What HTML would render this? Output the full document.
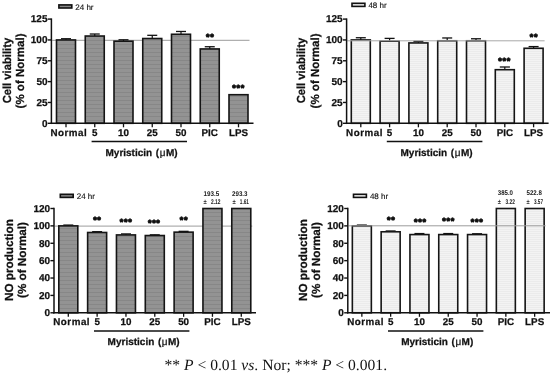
<!DOCTYPE html>
<html><head><meta charset="utf-8"><style>
html,body{margin:0;padding:0;background:#fff;width:550px;height:373px;overflow:hidden}
svg{position:absolute;left:0;top:0;display:block}
svg text{font-family:"Liberation Sans", Arial, sans-serif;fill:#111;text-rendering:geometricPrecision}
svg text.b{stroke:#111;stroke-width:0.25px}
svg text.st{stroke:#111;stroke-width:0.8px}
svg text.lg{stroke:#222;stroke-width:0.15px}
svg text.v{fill:#222}
</style></head><body>
<svg width="550" height="373" viewBox="0 0 550 373">
<defs>
<pattern id="pd" width="4" height="4" patternUnits="userSpaceOnUse">
<rect width="4" height="4" fill="#939393"/>
<rect width="4" height="1" fill="#878787"/>
</pattern>
<pattern id="pl" width="4" height="2" patternUnits="userSpaceOnUse">
<rect width="4" height="2" fill="#f3f3f3"/>
<rect width="4" height="1" y="1" fill="#ebebeb"/>
</pattern>
</defs>
<line x1="52.15" y1="40.30" x2="249.50" y2="40.30" stroke="#9c9c9c" stroke-width="1"/>
<line x1="66.00" y1="39.94" x2="66.00" y2="38.74" stroke="#111" stroke-width="1.2"/>
<line x1="61.00" y1="38.74" x2="71.00" y2="38.74" stroke="#111" stroke-width="1.3"/>
<rect x="56.50" y="39.94" width="19.00" height="83.36" fill="url(#pd)" stroke="#151515" stroke-width="1.6"/>
<line x1="94.75" y1="36.02" x2="94.75" y2="34.02" stroke="#111" stroke-width="1.2"/>
<line x1="89.75" y1="34.02" x2="99.75" y2="34.02" stroke="#111" stroke-width="1.3"/>
<rect x="85.25" y="36.02" width="19.00" height="87.28" fill="url(#pd)" stroke="#151515" stroke-width="1.6"/>
<line x1="123.50" y1="41.19" x2="123.50" y2="39.79" stroke="#111" stroke-width="1.2"/>
<line x1="118.50" y1="39.79" x2="128.50" y2="39.79" stroke="#111" stroke-width="1.3"/>
<rect x="114.00" y="41.19" width="19.00" height="82.11" fill="url(#pd)" stroke="#151515" stroke-width="1.6"/>
<line x1="152.25" y1="38.52" x2="152.25" y2="35.32" stroke="#111" stroke-width="1.2"/>
<line x1="147.25" y1="35.32" x2="157.25" y2="35.32" stroke="#111" stroke-width="1.3"/>
<rect x="142.75" y="38.52" width="19.00" height="84.78" fill="url(#pd)" stroke="#151515" stroke-width="1.6"/>
<line x1="181.00" y1="34.27" x2="181.00" y2="31.47" stroke="#111" stroke-width="1.2"/>
<line x1="176.00" y1="31.47" x2="186.00" y2="31.47" stroke="#111" stroke-width="1.3"/>
<rect x="171.50" y="34.27" width="19.00" height="89.03" fill="url(#pd)" stroke="#151515" stroke-width="1.6"/>
<line x1="209.75" y1="48.94" x2="209.75" y2="46.74" stroke="#111" stroke-width="1.2"/>
<line x1="204.75" y1="46.74" x2="214.75" y2="46.74" stroke="#111" stroke-width="1.3"/>
<rect x="200.25" y="48.94" width="19.00" height="74.36" fill="url(#pd)" stroke="#151515" stroke-width="1.6"/>
<rect x="229.00" y="94.71" width="19.00" height="28.59" fill="url(#pd)" stroke="#151515" stroke-width="1.6"/>
<line x1="51.40" y1="18.40" x2="51.40" y2="124.05" stroke="#111" stroke-width="1.5"/>
<line x1="50.65" y1="123.30" x2="253.50" y2="123.30" stroke="#111" stroke-width="1.5"/>
<line x1="47.80" y1="123.30" x2="51.40" y2="123.30" stroke="#111" stroke-width="1.4"/>
<text class="b" x="47.50" y="126.60" font-size="10" font-weight="bold" text-anchor="end" >0</text>
<line x1="47.80" y1="102.46" x2="51.40" y2="102.46" stroke="#111" stroke-width="1.4"/>
<text class="b" x="47.50" y="105.76" font-size="10" font-weight="bold" text-anchor="end" >25</text>
<line x1="47.80" y1="81.62" x2="51.40" y2="81.62" stroke="#111" stroke-width="1.4"/>
<text class="b" x="47.50" y="84.92" font-size="10" font-weight="bold" text-anchor="end" >50</text>
<line x1="47.80" y1="60.78" x2="51.40" y2="60.78" stroke="#111" stroke-width="1.4"/>
<text class="b" x="47.50" y="64.08" font-size="10" font-weight="bold" text-anchor="end" >75</text>
<line x1="47.80" y1="39.94" x2="51.40" y2="39.94" stroke="#111" stroke-width="1.4"/>
<text class="b" x="47.50" y="43.24" font-size="10" font-weight="bold" text-anchor="end" >100</text>
<line x1="47.80" y1="19.10" x2="51.40" y2="19.10" stroke="#111" stroke-width="1.4"/>
<text class="b" x="47.50" y="22.40" font-size="10" font-weight="bold" text-anchor="end" >125</text>
<line x1="66.00" y1="123.30" x2="66.00" y2="127.30" stroke="#111" stroke-width="1.3"/>
<text class="b" x="50.50" y="135.70" font-size="9.8" font-weight="bold" text-anchor="start" letter-spacing="0.5">Normal</text>
<line x1="94.75" y1="123.30" x2="94.75" y2="127.30" stroke="#111" stroke-width="1.3"/>
<text class="b" x="94.75" y="135.70" font-size="9.8" font-weight="bold" text-anchor="middle" >5</text>
<line x1="123.50" y1="123.30" x2="123.50" y2="127.30" stroke="#111" stroke-width="1.3"/>
<text class="b" x="123.50" y="135.70" font-size="9.8" font-weight="bold" text-anchor="middle" >10</text>
<line x1="152.25" y1="123.30" x2="152.25" y2="127.30" stroke="#111" stroke-width="1.3"/>
<text class="b" x="152.25" y="135.70" font-size="9.8" font-weight="bold" text-anchor="middle" >25</text>
<line x1="181.00" y1="123.30" x2="181.00" y2="127.30" stroke="#111" stroke-width="1.3"/>
<text class="b" x="181.00" y="135.70" font-size="9.8" font-weight="bold" text-anchor="middle" >50</text>
<line x1="209.75" y1="123.30" x2="209.75" y2="127.30" stroke="#111" stroke-width="1.3"/>
<text class="b" x="209.75" y="135.70" font-size="9.8" font-weight="bold" text-anchor="middle" >PIC</text>
<line x1="238.50" y1="123.30" x2="238.50" y2="127.30" stroke="#111" stroke-width="1.3"/>
<text class="b" x="238.50" y="135.70" font-size="9.8" font-weight="bold" text-anchor="middle" >LPS</text>
<line x1="91.60" y1="141.40" x2="187.00" y2="141.40" stroke="#111" stroke-width="1.5"/>
<text class="b" x="105.50" y="155.50" font-size="10" font-weight="bold" text-anchor="start" >Myristicin<tspan dx="3.6">(</tspan><tspan font-weight="normal" dx="0.6">&#956;</tspan><tspan dx="0.4">M)</tspan></text>
<text class="st" x="210.15" y="40.00" font-size="9" font-weight="bold" text-anchor="middle" letter-spacing="0.7">**</text>
<text class="st" x="238.55" y="91.30" font-size="9" font-weight="bold" text-anchor="middle" letter-spacing="0.7">***</text>
<rect x="58.90" y="4.90" width="12.9" height="3.1" fill="#888" stroke="#111" stroke-width="1.6"/>
<text class="lg" x="75.30" y="9.50" font-size="8" font-weight="normal" text-anchor="start" >24 hr</text>
<text class="b" transform="translate(10.80,70.60) rotate(-90)" font-size="11.7" font-weight="bold" text-anchor="middle" textLength="65.5" lengthAdjust="spacingAndGlyphs">Cell viability</text>
<text class="b" transform="translate(24.30,71.00) rotate(-90)" font-size="11.7" font-weight="bold" text-anchor="middle" textLength="74.9" lengthAdjust="spacingAndGlyphs">(% of Normal)</text>
<line x1="360.80" y1="39.94" x2="360.80" y2="37.74" stroke="#111" stroke-width="1.2"/>
<line x1="355.80" y1="37.74" x2="365.80" y2="37.74" stroke="#111" stroke-width="1.3"/>
<rect x="351.30" y="39.94" width="19.00" height="83.36" fill="url(#pl)" stroke="#151515" stroke-width="1.6"/>
<line x1="389.60" y1="41.19" x2="389.60" y2="38.39" stroke="#111" stroke-width="1.2"/>
<line x1="384.60" y1="38.39" x2="394.60" y2="38.39" stroke="#111" stroke-width="1.3"/>
<rect x="380.10" y="41.19" width="19.00" height="82.11" fill="url(#pl)" stroke="#151515" stroke-width="1.6"/>
<line x1="418.40" y1="42.94" x2="418.40" y2="41.34" stroke="#111" stroke-width="1.2"/>
<line x1="413.40" y1="41.34" x2="423.40" y2="41.34" stroke="#111" stroke-width="1.3"/>
<rect x="408.90" y="42.94" width="19.00" height="80.36" fill="url(#pl)" stroke="#151515" stroke-width="1.6"/>
<line x1="447.20" y1="40.77" x2="447.20" y2="37.97" stroke="#111" stroke-width="1.2"/>
<line x1="442.20" y1="37.97" x2="452.20" y2="37.97" stroke="#111" stroke-width="1.3"/>
<rect x="437.70" y="40.77" width="19.00" height="82.53" fill="url(#pl)" stroke="#151515" stroke-width="1.6"/>
<line x1="476.00" y1="40.77" x2="476.00" y2="38.77" stroke="#111" stroke-width="1.2"/>
<line x1="471.00" y1="38.77" x2="481.00" y2="38.77" stroke="#111" stroke-width="1.3"/>
<rect x="466.50" y="40.77" width="19.00" height="82.53" fill="url(#pl)" stroke="#151515" stroke-width="1.6"/>
<line x1="504.80" y1="69.70" x2="504.80" y2="67.00" stroke="#111" stroke-width="1.2"/>
<line x1="499.80" y1="67.00" x2="509.80" y2="67.00" stroke="#111" stroke-width="1.3"/>
<rect x="495.30" y="69.70" width="19.00" height="53.60" fill="url(#pl)" stroke="#151515" stroke-width="1.6"/>
<line x1="533.60" y1="48.28" x2="533.60" y2="46.58" stroke="#111" stroke-width="1.2"/>
<line x1="528.60" y1="46.58" x2="538.60" y2="46.58" stroke="#111" stroke-width="1.3"/>
<rect x="524.10" y="48.28" width="19.00" height="75.02" fill="url(#pl)" stroke="#151515" stroke-width="1.6"/>
<line x1="347.35" y1="40.80" x2="544.60" y2="40.80" stroke="#a8a8a8" stroke-width="1"/>
<line x1="346.60" y1="18.40" x2="346.60" y2="124.05" stroke="#111" stroke-width="1.5"/>
<line x1="345.85" y1="123.30" x2="548.60" y2="123.30" stroke="#111" stroke-width="1.5"/>
<line x1="343.00" y1="123.30" x2="346.60" y2="123.30" stroke="#111" stroke-width="1.4"/>
<text class="b" x="342.70" y="126.60" font-size="10" font-weight="bold" text-anchor="end" >0</text>
<line x1="343.00" y1="102.46" x2="346.60" y2="102.46" stroke="#111" stroke-width="1.4"/>
<text class="b" x="342.70" y="105.76" font-size="10" font-weight="bold" text-anchor="end" >25</text>
<line x1="343.00" y1="81.62" x2="346.60" y2="81.62" stroke="#111" stroke-width="1.4"/>
<text class="b" x="342.70" y="84.92" font-size="10" font-weight="bold" text-anchor="end" >50</text>
<line x1="343.00" y1="60.78" x2="346.60" y2="60.78" stroke="#111" stroke-width="1.4"/>
<text class="b" x="342.70" y="64.08" font-size="10" font-weight="bold" text-anchor="end" >75</text>
<line x1="343.00" y1="39.94" x2="346.60" y2="39.94" stroke="#111" stroke-width="1.4"/>
<text class="b" x="342.70" y="43.24" font-size="10" font-weight="bold" text-anchor="end" >100</text>
<line x1="343.00" y1="19.10" x2="346.60" y2="19.10" stroke="#111" stroke-width="1.4"/>
<text class="b" x="342.70" y="22.40" font-size="10" font-weight="bold" text-anchor="end" >125</text>
<line x1="360.80" y1="123.30" x2="360.80" y2="127.30" stroke="#111" stroke-width="1.3"/>
<text class="b" x="346.10" y="135.70" font-size="9.8" font-weight="bold" text-anchor="start" letter-spacing="0.5">Normal</text>
<line x1="389.60" y1="123.30" x2="389.60" y2="127.30" stroke="#111" stroke-width="1.3"/>
<text class="b" x="389.60" y="135.70" font-size="9.8" font-weight="bold" text-anchor="middle" >5</text>
<line x1="418.40" y1="123.30" x2="418.40" y2="127.30" stroke="#111" stroke-width="1.3"/>
<text class="b" x="418.40" y="135.70" font-size="9.8" font-weight="bold" text-anchor="middle" >10</text>
<line x1="447.20" y1="123.30" x2="447.20" y2="127.30" stroke="#111" stroke-width="1.3"/>
<text class="b" x="447.20" y="135.70" font-size="9.8" font-weight="bold" text-anchor="middle" >25</text>
<line x1="476.00" y1="123.30" x2="476.00" y2="127.30" stroke="#111" stroke-width="1.3"/>
<text class="b" x="476.00" y="135.70" font-size="9.8" font-weight="bold" text-anchor="middle" >50</text>
<line x1="504.80" y1="123.30" x2="504.80" y2="127.30" stroke="#111" stroke-width="1.3"/>
<text class="b" x="504.80" y="135.70" font-size="9.8" font-weight="bold" text-anchor="middle" >PIC</text>
<line x1="533.60" y1="123.30" x2="533.60" y2="127.30" stroke="#111" stroke-width="1.3"/>
<text class="b" x="533.60" y="135.70" font-size="9.8" font-weight="bold" text-anchor="middle" >LPS</text>
<line x1="386.80" y1="141.40" x2="482.40" y2="141.40" stroke="#111" stroke-width="1.5"/>
<text class="b" x="400.50" y="155.50" font-size="10" font-weight="bold" text-anchor="start" >Myristicin<tspan dx="3.6">(</tspan><tspan font-weight="normal" dx="0.6">&#956;</tspan><tspan dx="0.4">M)</tspan></text>
<text class="st" x="504.55" y="63.50" font-size="9" font-weight="bold" text-anchor="middle" letter-spacing="0.7">***</text>
<text class="st" x="533.95" y="39.70" font-size="9" font-weight="bold" text-anchor="middle" letter-spacing="0.7">**</text>
<rect x="352.00" y="3.30" width="12.9" height="3.1" fill="#eee" stroke="#111" stroke-width="1.6"/>
<text class="lg" x="368.40" y="7.90" font-size="8" font-weight="normal" text-anchor="start" >48 hr</text>
<text class="b" transform="translate(305.30,70.60) rotate(-90)" font-size="11.7" font-weight="bold" text-anchor="middle" textLength="65.5" lengthAdjust="spacingAndGlyphs">Cell viability</text>
<text class="b" transform="translate(318.60,71.00) rotate(-90)" font-size="11.7" font-weight="bold" text-anchor="middle" textLength="74.9" lengthAdjust="spacingAndGlyphs">(% of Normal)</text>
<line x1="54.75" y1="226.10" x2="252.28" y2="226.10" stroke="#9c9c9c" stroke-width="1"/>
<line x1="68.30" y1="225.88" x2="68.30" y2="225.08" stroke="#111" stroke-width="1.2"/>
<line x1="63.30" y1="225.08" x2="73.30" y2="225.08" stroke="#111" stroke-width="1.3"/>
<rect x="58.80" y="225.88" width="19.00" height="86.92" fill="url(#pd)" stroke="#151515" stroke-width="1.6"/>
<line x1="97.13" y1="232.49" x2="97.13" y2="231.69" stroke="#111" stroke-width="1.2"/>
<line x1="92.13" y1="231.69" x2="102.13" y2="231.69" stroke="#111" stroke-width="1.3"/>
<rect x="87.63" y="232.49" width="19.00" height="80.31" fill="url(#pd)" stroke="#151515" stroke-width="1.6"/>
<line x1="125.96" y1="234.92" x2="125.96" y2="233.92" stroke="#111" stroke-width="1.2"/>
<line x1="120.96" y1="233.92" x2="130.96" y2="233.92" stroke="#111" stroke-width="1.3"/>
<rect x="116.46" y="234.92" width="19.00" height="77.88" fill="url(#pd)" stroke="#151515" stroke-width="1.6"/>
<line x1="154.79" y1="235.53" x2="154.79" y2="234.83" stroke="#111" stroke-width="1.2"/>
<line x1="149.79" y1="234.83" x2="159.79" y2="234.83" stroke="#111" stroke-width="1.3"/>
<rect x="145.29" y="235.53" width="19.00" height="77.27" fill="url(#pd)" stroke="#151515" stroke-width="1.6"/>
<line x1="183.62" y1="232.14" x2="183.62" y2="231.34" stroke="#111" stroke-width="1.2"/>
<line x1="178.62" y1="231.34" x2="188.62" y2="231.34" stroke="#111" stroke-width="1.3"/>
<rect x="174.12" y="232.14" width="19.00" height="80.66" fill="url(#pd)" stroke="#151515" stroke-width="1.6"/>
<rect x="202.95" y="208.50" width="19.00" height="104.30" fill="url(#pd)" stroke="#151515" stroke-width="1.6"/>
<rect x="231.78" y="208.50" width="19.00" height="104.30" fill="url(#pd)" stroke="#151515" stroke-width="1.6"/>
<line x1="54.00" y1="207.80" x2="54.00" y2="313.55" stroke="#111" stroke-width="1.5"/>
<line x1="53.25" y1="312.80" x2="256.00" y2="312.80" stroke="#111" stroke-width="1.5"/>
<line x1="50.40" y1="312.80" x2="54.00" y2="312.80" stroke="#111" stroke-width="1.4"/>
<text class="b" x="50.10" y="316.10" font-size="10" font-weight="bold" text-anchor="end" >0</text>
<line x1="50.40" y1="295.42" x2="54.00" y2="295.42" stroke="#111" stroke-width="1.4"/>
<text class="b" x="50.10" y="298.72" font-size="10" font-weight="bold" text-anchor="end" >20</text>
<line x1="50.40" y1="278.03" x2="54.00" y2="278.03" stroke="#111" stroke-width="1.4"/>
<text class="b" x="50.10" y="281.33" font-size="10" font-weight="bold" text-anchor="end" >40</text>
<line x1="50.40" y1="260.65" x2="54.00" y2="260.65" stroke="#111" stroke-width="1.4"/>
<text class="b" x="50.10" y="263.95" font-size="10" font-weight="bold" text-anchor="end" >60</text>
<line x1="50.40" y1="243.27" x2="54.00" y2="243.27" stroke="#111" stroke-width="1.4"/>
<text class="b" x="50.10" y="246.57" font-size="10" font-weight="bold" text-anchor="end" >80</text>
<line x1="50.40" y1="225.88" x2="54.00" y2="225.88" stroke="#111" stroke-width="1.4"/>
<text class="b" x="50.10" y="229.18" font-size="10" font-weight="bold" text-anchor="end" >100</text>
<line x1="50.40" y1="208.50" x2="54.00" y2="208.50" stroke="#111" stroke-width="1.4"/>
<text class="b" x="50.10" y="211.80" font-size="10" font-weight="bold" text-anchor="end" >120</text>
<line x1="68.30" y1="312.80" x2="68.30" y2="316.80" stroke="#111" stroke-width="1.3"/>
<text class="b" x="53.30" y="325.20" font-size="9.8" font-weight="bold" text-anchor="start" letter-spacing="0.5">Normal</text>
<line x1="97.13" y1="312.80" x2="97.13" y2="316.80" stroke="#111" stroke-width="1.3"/>
<text class="b" x="97.13" y="325.20" font-size="9.8" font-weight="bold" text-anchor="middle" >5</text>
<line x1="125.96" y1="312.80" x2="125.96" y2="316.80" stroke="#111" stroke-width="1.3"/>
<text class="b" x="125.96" y="325.20" font-size="9.8" font-weight="bold" text-anchor="middle" >10</text>
<line x1="154.79" y1="312.80" x2="154.79" y2="316.80" stroke="#111" stroke-width="1.3"/>
<text class="b" x="154.79" y="325.20" font-size="9.8" font-weight="bold" text-anchor="middle" >25</text>
<line x1="183.62" y1="312.80" x2="183.62" y2="316.80" stroke="#111" stroke-width="1.3"/>
<text class="b" x="183.62" y="325.20" font-size="9.8" font-weight="bold" text-anchor="middle" >50</text>
<line x1="212.45" y1="312.80" x2="212.45" y2="316.80" stroke="#111" stroke-width="1.3"/>
<text class="b" x="212.45" y="325.20" font-size="9.8" font-weight="bold" text-anchor="middle" >PIC</text>
<line x1="241.28" y1="312.80" x2="241.28" y2="316.80" stroke="#111" stroke-width="1.3"/>
<text class="b" x="241.28" y="325.20" font-size="9.8" font-weight="bold" text-anchor="middle" >LPS</text>
<line x1="94.00" y1="331.00" x2="189.40" y2="331.00" stroke="#111" stroke-width="1.5"/>
<text class="b" x="107.60" y="345.30" font-size="10" font-weight="bold" text-anchor="start" >Myristicin<tspan dx="3.6">(</tspan><tspan font-weight="normal" dx="0.6">&#956;</tspan><tspan dx="0.4">M)</tspan></text>
<text class="st" x="97.35" y="222.80" font-size="9" font-weight="bold" text-anchor="middle" letter-spacing="0.7">**</text>
<text class="st" x="126.05" y="225.40" font-size="9" font-weight="bold" text-anchor="middle" letter-spacing="0.7">***</text>
<text class="st" x="154.25" y="225.80" font-size="9" font-weight="bold" text-anchor="middle" letter-spacing="0.7">***</text>
<text class="st" x="184.05" y="223.40" font-size="9" font-weight="bold" text-anchor="middle" letter-spacing="0.7">**</text>
<rect x="60.30" y="194.30" width="12.9" height="3.1" fill="#888" stroke="#111" stroke-width="1.6"/>
<text class="lg" x="76.70" y="198.90" font-size="8" font-weight="normal" text-anchor="start" >24 hr</text>
<text class="b" transform="translate(13.40,260.00) rotate(-90)" font-size="11.7" font-weight="bold" text-anchor="middle">NO production</text>
<text class="b" transform="translate(25.60,260.00) rotate(-90)" font-size="11.7" font-weight="bold" text-anchor="middle">(% of Normal)</text>
<text class="v" x="203.50" y="196.00" font-size="6.8" font-weight="bold" text-anchor="start" textLength="15.70" lengthAdjust="spacingAndGlyphs">193.5</text>
<text class="v" x="203.40" y="203.90" font-size="6.8" font-weight="bold" text-anchor="start" textLength="3.20" lengthAdjust="spacingAndGlyphs">±</text>
<text class="v" x="211.00" y="203.90" font-size="6.8" font-weight="bold" text-anchor="start" textLength="9.50" lengthAdjust="spacingAndGlyphs">2.12</text>
<text class="v" x="232.00" y="196.00" font-size="6.8" font-weight="bold" text-anchor="start" textLength="15.50" lengthAdjust="spacingAndGlyphs">293.3</text>
<text class="v" x="232.40" y="203.90" font-size="6.8" font-weight="bold" text-anchor="start" textLength="3.20" lengthAdjust="spacingAndGlyphs">±</text>
<text class="v" x="239.80" y="203.90" font-size="6.8" font-weight="bold" text-anchor="start" textLength="9.20" lengthAdjust="spacingAndGlyphs">1.61</text>
<line x1="361.85" y1="225.88" x2="361.85" y2="225.08" stroke="#111" stroke-width="1.2"/>
<line x1="356.85" y1="225.08" x2="366.85" y2="225.08" stroke="#111" stroke-width="1.3"/>
<rect x="352.35" y="225.88" width="19.00" height="86.92" fill="url(#pl)" stroke="#151515" stroke-width="1.6"/>
<line x1="390.65" y1="231.79" x2="390.65" y2="230.99" stroke="#111" stroke-width="1.2"/>
<line x1="385.65" y1="230.99" x2="395.65" y2="230.99" stroke="#111" stroke-width="1.3"/>
<rect x="381.15" y="231.79" width="19.00" height="81.01" fill="url(#pl)" stroke="#151515" stroke-width="1.6"/>
<line x1="419.45" y1="234.57" x2="419.45" y2="233.57" stroke="#111" stroke-width="1.2"/>
<line x1="414.45" y1="233.57" x2="424.45" y2="233.57" stroke="#111" stroke-width="1.3"/>
<rect x="409.95" y="234.57" width="19.00" height="78.23" fill="url(#pl)" stroke="#151515" stroke-width="1.6"/>
<line x1="448.25" y1="234.57" x2="448.25" y2="233.57" stroke="#111" stroke-width="1.2"/>
<line x1="443.25" y1="233.57" x2="453.25" y2="233.57" stroke="#111" stroke-width="1.3"/>
<rect x="438.75" y="234.57" width="19.00" height="78.23" fill="url(#pl)" stroke="#151515" stroke-width="1.6"/>
<line x1="477.05" y1="234.57" x2="477.05" y2="233.77" stroke="#111" stroke-width="1.2"/>
<line x1="472.05" y1="233.77" x2="482.05" y2="233.77" stroke="#111" stroke-width="1.3"/>
<rect x="467.55" y="234.57" width="19.00" height="78.23" fill="url(#pl)" stroke="#151515" stroke-width="1.6"/>
<rect x="496.35" y="208.50" width="19.00" height="104.30" fill="url(#pl)" stroke="#151515" stroke-width="1.6"/>
<rect x="525.15" y="208.50" width="19.00" height="104.30" fill="url(#pl)" stroke="#151515" stroke-width="1.6"/>
<line x1="348.55" y1="225.80" x2="545.65" y2="225.80" stroke="#9c9c9c" stroke-width="1"/>
<line x1="347.80" y1="207.80" x2="347.80" y2="313.55" stroke="#111" stroke-width="1.5"/>
<line x1="347.05" y1="312.80" x2="550.50" y2="312.80" stroke="#111" stroke-width="1.5"/>
<line x1="344.20" y1="312.80" x2="347.80" y2="312.80" stroke="#111" stroke-width="1.4"/>
<text class="b" x="343.90" y="316.10" font-size="10" font-weight="bold" text-anchor="end" >0</text>
<line x1="344.20" y1="295.42" x2="347.80" y2="295.42" stroke="#111" stroke-width="1.4"/>
<text class="b" x="343.90" y="298.72" font-size="10" font-weight="bold" text-anchor="end" >20</text>
<line x1="344.20" y1="278.03" x2="347.80" y2="278.03" stroke="#111" stroke-width="1.4"/>
<text class="b" x="343.90" y="281.33" font-size="10" font-weight="bold" text-anchor="end" >40</text>
<line x1="344.20" y1="260.65" x2="347.80" y2="260.65" stroke="#111" stroke-width="1.4"/>
<text class="b" x="343.90" y="263.95" font-size="10" font-weight="bold" text-anchor="end" >60</text>
<line x1="344.20" y1="243.27" x2="347.80" y2="243.27" stroke="#111" stroke-width="1.4"/>
<text class="b" x="343.90" y="246.57" font-size="10" font-weight="bold" text-anchor="end" >80</text>
<line x1="344.20" y1="225.88" x2="347.80" y2="225.88" stroke="#111" stroke-width="1.4"/>
<text class="b" x="343.90" y="229.18" font-size="10" font-weight="bold" text-anchor="end" >100</text>
<line x1="344.20" y1="208.50" x2="347.80" y2="208.50" stroke="#111" stroke-width="1.4"/>
<text class="b" x="343.90" y="211.80" font-size="10" font-weight="bold" text-anchor="end" >120</text>
<line x1="361.85" y1="312.80" x2="361.85" y2="316.80" stroke="#111" stroke-width="1.3"/>
<text class="b" x="347.15" y="325.20" font-size="9.8" font-weight="bold" text-anchor="start" letter-spacing="0.5">Normal</text>
<line x1="390.65" y1="312.80" x2="390.65" y2="316.80" stroke="#111" stroke-width="1.3"/>
<text class="b" x="390.65" y="325.20" font-size="9.8" font-weight="bold" text-anchor="middle" >5</text>
<line x1="419.45" y1="312.80" x2="419.45" y2="316.80" stroke="#111" stroke-width="1.3"/>
<text class="b" x="419.45" y="325.20" font-size="9.8" font-weight="bold" text-anchor="middle" >10</text>
<line x1="448.25" y1="312.80" x2="448.25" y2="316.80" stroke="#111" stroke-width="1.3"/>
<text class="b" x="448.25" y="325.20" font-size="9.8" font-weight="bold" text-anchor="middle" >25</text>
<line x1="477.05" y1="312.80" x2="477.05" y2="316.80" stroke="#111" stroke-width="1.3"/>
<text class="b" x="477.05" y="325.20" font-size="9.8" font-weight="bold" text-anchor="middle" >50</text>
<line x1="505.85" y1="312.80" x2="505.85" y2="316.80" stroke="#111" stroke-width="1.3"/>
<text class="b" x="505.85" y="325.20" font-size="9.8" font-weight="bold" text-anchor="middle" >PIC</text>
<line x1="534.65" y1="312.80" x2="534.65" y2="316.80" stroke="#111" stroke-width="1.3"/>
<text class="b" x="534.65" y="325.20" font-size="9.8" font-weight="bold" text-anchor="middle" >LPS</text>
<line x1="388.00" y1="331.00" x2="483.40" y2="331.00" stroke="#111" stroke-width="1.5"/>
<text class="b" x="401.20" y="345.30" font-size="10" font-weight="bold" text-anchor="start" >Myristicin<tspan dx="3.6">(</tspan><tspan font-weight="normal" dx="0.6">&#956;</tspan><tspan dx="0.4">M)</tspan></text>
<text class="st" x="391.25" y="223.00" font-size="9" font-weight="bold" text-anchor="middle" letter-spacing="0.7">**</text>
<text class="st" x="420.35" y="225.00" font-size="9" font-weight="bold" text-anchor="middle" letter-spacing="0.7">***</text>
<text class="st" x="448.55" y="224.20" font-size="9" font-weight="bold" text-anchor="middle" letter-spacing="0.7">***</text>
<text class="st" x="477.05" y="225.00" font-size="9" font-weight="bold" text-anchor="middle" letter-spacing="0.7">***</text>
<rect x="353.50" y="194.30" width="12.9" height="3.1" fill="#eee" stroke="#111" stroke-width="1.6"/>
<text class="lg" x="369.90" y="198.90" font-size="8" font-weight="normal" text-anchor="start" >48 hr</text>
<text class="b" transform="translate(307.40,260.00) rotate(-90)" font-size="11.7" font-weight="bold" text-anchor="middle">NO production</text>
<text class="b" transform="translate(320.30,260.00) rotate(-90)" font-size="11.7" font-weight="bold" text-anchor="middle">(% of Normal)</text>
<text class="v" x="497.80" y="195.20" font-size="6.8" font-weight="bold" text-anchor="start" textLength="15.20" lengthAdjust="spacingAndGlyphs">385.0</text>
<text class="v" x="497.80" y="203.70" font-size="6.8" font-weight="bold" text-anchor="start" textLength="3.10" lengthAdjust="spacingAndGlyphs">±</text>
<text class="v" x="505.50" y="203.80" font-size="6.8" font-weight="bold" text-anchor="start" textLength="9.30" lengthAdjust="spacingAndGlyphs">3.22</text>
<text class="v" x="526.50" y="195.20" font-size="6.8" font-weight="bold" text-anchor="start" textLength="15.30" lengthAdjust="spacingAndGlyphs">522.8</text>
<text class="v" x="526.50" y="203.70" font-size="6.8" font-weight="bold" text-anchor="start" textLength="3.10" lengthAdjust="spacingAndGlyphs">±</text>
<text class="v" x="534.00" y="203.80" font-size="6.8" font-weight="bold" text-anchor="start" textLength="9.00" lengthAdjust="spacingAndGlyphs">3.57</text>
<text x="275.8" y="370" font-size="15.6" text-anchor="middle" style="font-family:'Liberation Serif','Times New Roman',serif">** <tspan font-style="italic">P</tspan> &lt; 0.01 <tspan font-style="italic">vs</tspan>. Nor; *** <tspan font-style="italic">P</tspan> &lt; 0.001.</text>
</svg>
</body></html>
